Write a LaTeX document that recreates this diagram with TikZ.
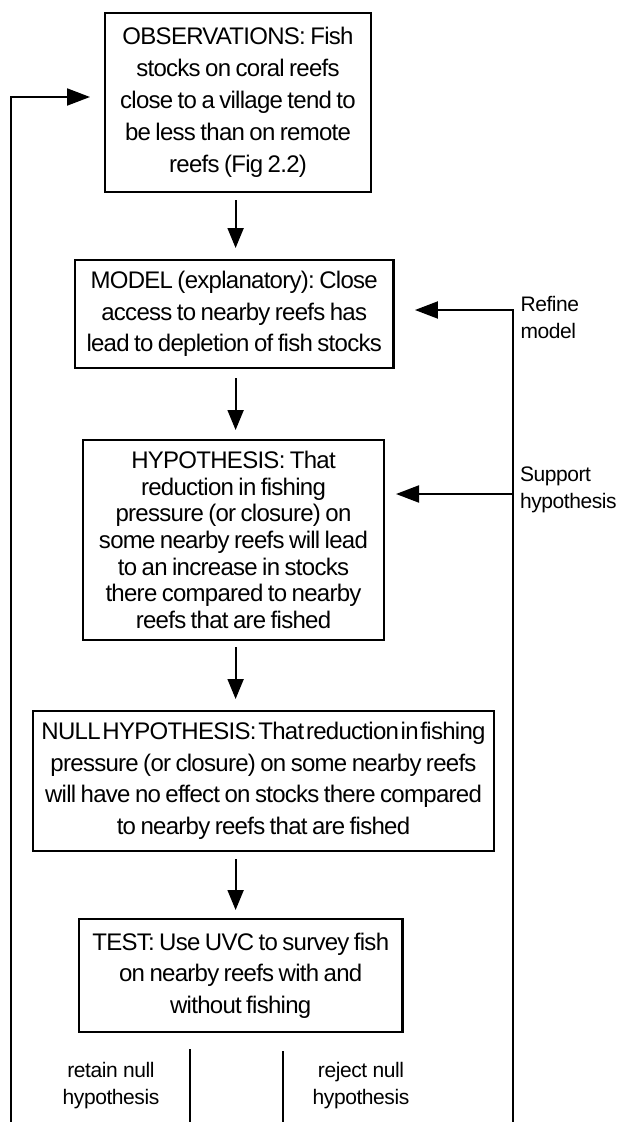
\documentclass[tikz,border=0pt]{standalone}
\usepackage{fontspec}
\setmainfont{Liberation Sans}[LetterSpace=-3, WordSpace=0.75]
\newfontfamily\lblfont{Liberation Sans}[LetterSpace=-2]
\newfontfamily\tightfont{Liberation Sans}[LetterSpace=-3, WordSpace=0.3]
\usetikzlibrary{arrows.meta,calc}
\frenchspacing
\begin{document}
\begin{tikzpicture}[x=1pt,y=-1pt,
  box/.style={draw, line width=2.6pt, inner sep=0pt, outer sep=0pt, align=center},
  conn/.style={line width=2pt},
  arr/.style={conn, -{Triangle[length=20pt,width=16pt]}},
  sarr/.style={conn, -{Triangle[length=23pt,width=17pt]}},
  lbl/.style={inner sep=0pt, outer sep=0pt, align=left, font=\lblfont\fontsize{21}{27}\selectfont},
  clbl/.style={inner sep=0pt, outer sep=0pt, align=center, font=\lblfont\fontsize{21}{27}\selectfont},
]
\useasboundingbox (0,0) rectangle (620,1122);
\fill[white] (0,0) rectangle (620,1122);

\node[box, minimum width=266pt, minimum height=179pt, font=\fontsize{24}{32}\selectfont] (obs) at (238,102.5)
  {OBSERVATIONS: Fish\\stocks on coral reefs\\close to a village tend to\\be less than on remote\\reefs (Fig 2.2)};
\node[box, minimum width=318.5pt, minimum height=108pt, font=\fontsize{24}{31.7}\selectfont] (model) at (234.2,314)
  {MODEL (explanatory): Close\\access to nearby reefs has\\lead to depletion of fish stocks};
\node[box, minimum width=301pt, minimum height=200pt, font=\fontsize{24}{26.7}\selectfont] (hyp) at (233.5,540)
  {HYPOTHESIS: That\\reduction in fishing\\pressure (or closure) on\\some nearby reefs will lead\\to an increase in stocks\\there compared to nearby\\reefs that are fished};
\node[box, minimum width=461pt, minimum height=140pt, font=\fontsize{24}{31.5}\selectfont] (null) at (263.5,781)
  {{\tightfont NULL HYPOTHESIS: That reduction in fishing}\\pressure (or closure) on some nearby reefs\\will have no effect on stocks there compared\\to nearby reefs that are fished};
\node[box, minimum width=323.5pt, minimum height=113pt, font=\fontsize{24}{31.7}\selectfont] (test) at (240.7,975.5)
  {TEST: Use UVC to survey fish\\on nearby reefs with and\\without fishing};

\node[lbl, anchor=west] (refine) at (520.5,317) {Refine\\model};
\node[lbl, anchor=west] (support) at (520,490) {Support\\hypothesis};
\node[clbl] (retain) at (111,1086) {retain null\\hypothesis};
\node[clbl] (reject) at (361,1086) {reject null\\hypothesis};

\coordinate (ax) at (235.6,0);
\draw[arr, shorten <=8pt, shorten >=12pt] (obs.south -| ax) -- (model.north -| ax);
\draw[arr, shorten <=10pt, shorten >=10pt] (model.south -| ax) -- (hyp.north -| ax);
\draw[arr, shorten <=7pt, shorten >=12pt] (hyp.south -| ax) -- (null.north -| ax);
\draw[arr, shorten <=8pt, shorten >=9pt] (null.south -| ax) -- (test.north -| ax);

\coordinate (lb) at (10.5,1126);
\coordinate (lt) at (10.5,97);
\draw[sarr, shorten >=15pt] (lb) -- (lt) -- (obs.west |- lt);

\coordinate (rb) at (513,1126);
\coordinate (rt) at (513,310);
\coordinate (rs) at (513,494);
\draw[sarr, shorten >=21.5pt] (rb) -- (rt) -- (model.east |- rt);
\draw[sarr, shorten >=12pt] (rs) -- (hyp.east |- rs);

\coordinate (b1) at (190,1126);
\coordinate (b2) at (283,1126);
\draw[conn, shorten <=17pt] (test.south -| b1) -- (b1);
\draw[conn, shorten <=19pt] (test.south -| b2) -- (b2);
\end{tikzpicture}
\end{document}
